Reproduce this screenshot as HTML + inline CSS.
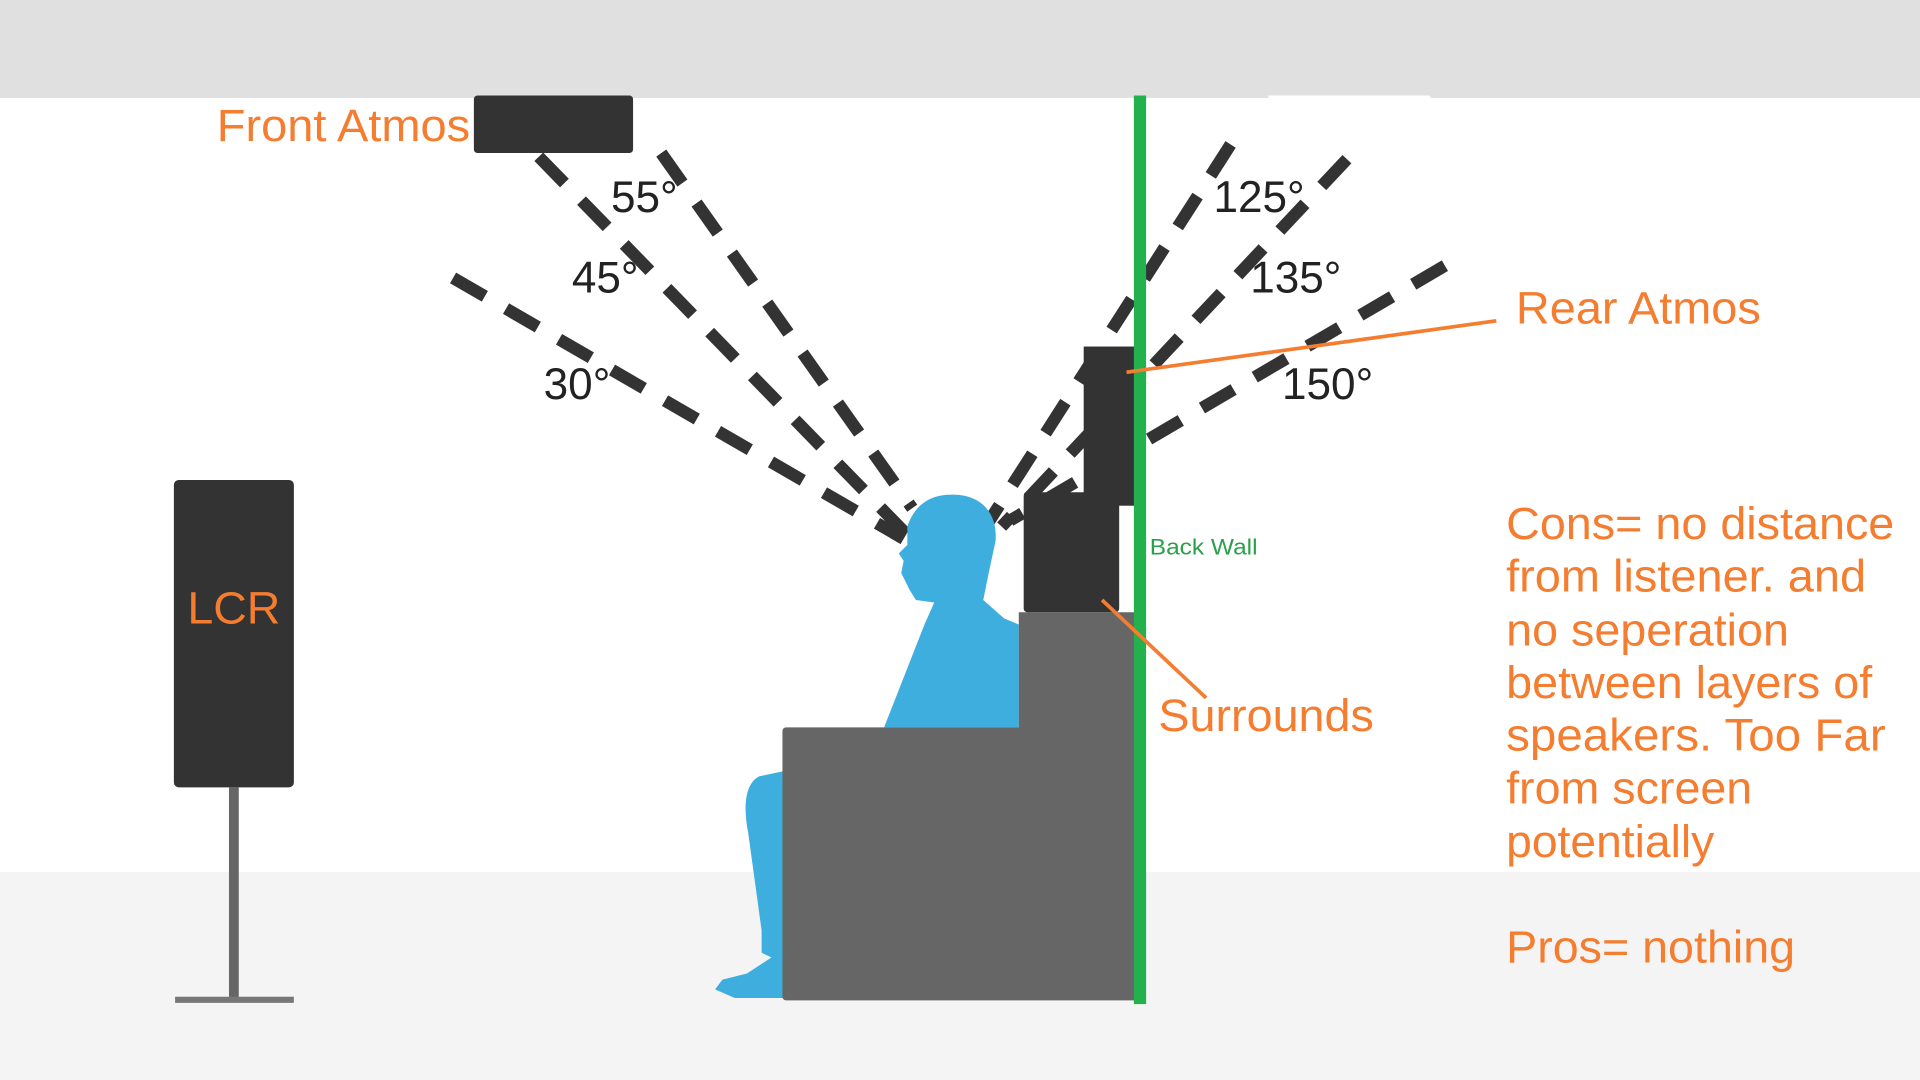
<!DOCTYPE html>
<html><head><meta charset="utf-8"><style>
html,body{margin:0;padding:0;background:#fff;}
svg{display:block;}
text{font-family:"Liberation Sans",sans-serif;}
</style></head><body>
<svg width="1920" height="1080" viewBox="0 0 1568 882" xmlns="http://www.w3.org/2000/svg">
<rect x="0" y="0" width="1568" height="882" fill="#fff"/>
<rect x="0" y="0" width="1568" height="80" fill="#e0e0e0"/>
<rect x="1036" y="78" width="132" height="50" fill="#fff"/>
<rect x="0" y="712" width="1568" height="170" fill="#f4f4f4"/>

<g stroke="#333" stroke-width="10" stroke-dasharray="30,20" fill="none">
<line x1="370" y1="227" x2="738" y2="440"/>
<line x1="440" y1="128" x2="742" y2="438"/>
<line x1="540" y1="125" x2="745" y2="415"/>
<line x1="1005" y1="118" x2="805" y2="430"/>
<line x1="1100" y1="130" x2="818" y2="430"/>
<line x1="1180" y1="217" x2="825" y2="425"/>
</g>

<path fill="#3daedd" d="M776,404 C802,403 815,420 813,442 L807,470 L803,490 L820,505 L832,510 L832,594 L722,594 L755,510 L763,492 L748,490 L743,482 L736,468 L738,458 L734,452 L741,445 L741,430 C747,412 760,404 776,404 Z"/>
<path fill="#3daedd" d="M639,630 L620,634 C608,640 607,660 611,680 L622,760 L622,778 L630,782 L610,795 L590,800 L584,808 L600,815 L640,815 Z"/>

<rect x="639" y="594" width="290" height="223" rx="3" fill="#666"/>
<rect x="832" y="500" width="97" height="100" fill="#666"/>

<rect x="387" y="78" width="130" height="47" rx="3" fill="#333"/>
<rect x="885" y="283" width="42" height="130" fill="#333"/>
<rect x="836" y="402" width="78" height="98" rx="3" fill="#333"/>
<rect x="142" y="392" width="98" height="251" rx="4" fill="#333"/>
<rect x="187" y="643" width="8" height="174" fill="#666"/>
<rect x="143" y="814" width="97" height="5" fill="#777"/>

<rect x="926" y="78" width="10" height="742" fill="#22b14c"/>

<line x1="920" y1="304" x2="1222" y2="262" stroke="#f47d30" stroke-width="3"/>
<line x1="900" y1="490" x2="985" y2="570" stroke="#f47d30" stroke-width="3"/>

<g fill="#222" font-size="36">
<text x="499" y="173">55°</text>
<text x="467" y="239">45°</text>
<text x="444" y="326">30°</text>
<text x="991" y="173">125°</text>
<text x="1021" y="239">135°</text>
<text x="1047" y="326">150°</text>
</g>

<g fill="#f47d30" font-size="37" lengthAdjust="spacingAndGlyphs">
<text x="177" y="115" textLength="207" lengthAdjust="spacingAndGlyphs">Front Atmos</text>
<text x="153" y="509" textLength="76" lengthAdjust="spacingAndGlyphs">LCR</text>
<text x="1238" y="264" textLength="200" lengthAdjust="spacingAndGlyphs">Rear Atmos</text>
<text x="946" y="597" textLength="176" lengthAdjust="spacingAndGlyphs">Surrounds</text>
<text x="1230" y="440" textLength="317" lengthAdjust="spacingAndGlyphs">Cons= no distance</text>
<text x="1230" y="483" textLength="294" lengthAdjust="spacingAndGlyphs">from listener. and</text>
<text x="1230" y="527" textLength="231" lengthAdjust="spacingAndGlyphs">no seperation</text>
<text x="1230" y="570" textLength="299" lengthAdjust="spacingAndGlyphs">between layers of</text>
<text x="1230" y="613" textLength="310" lengthAdjust="spacingAndGlyphs">speakers. Too Far</text>
<text x="1230" y="656" textLength="201" lengthAdjust="spacingAndGlyphs">from screen</text>
<text x="1230" y="700" textLength="170" lengthAdjust="spacingAndGlyphs">potentially</text>
<text x="1230" y="786" textLength="236" lengthAdjust="spacingAndGlyphs">Pros= nothing</text>
</g>
<text x="939" y="453" fill="#2aa04a" font-size="18" textLength="88" lengthAdjust="spacingAndGlyphs">Back Wall</text>
</svg>
</body></html>
